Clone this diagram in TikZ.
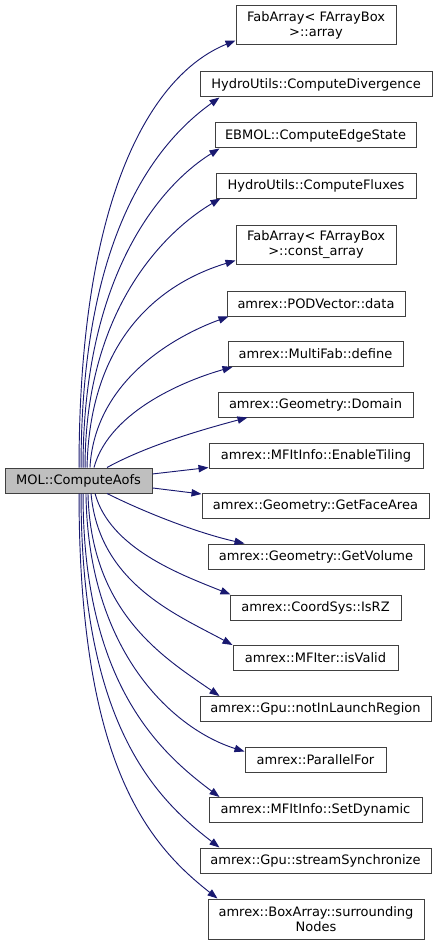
\documentclass[tikz,border=0pt]{standalone}
\usepackage{fontspec}
\setmainfont{DejaVu Sans}
\usepackage{tikz}
\usetikzlibrary{arrows.meta}

\definecolor{edgeblue}{HTML}{191970}
\definecolor{boxline}{HTML}{404040}
\definecolor{mainfill}{HTML}{BFBFBF}

\begin{document}
\begin{tikzpicture}[x=0.75pt, y=-0.75pt,
    fn/.style={draw=boxline, line width=0.75pt, fill=white, inner sep=0pt,
      minimum height=18.75pt, align=center,
      font=\fontsize{9.75}{11.25}\selectfont},
    call/.style={draw=edgeblue, line width=0.7pt,
      -{Triangle[length=7.5pt, width=5.5pt]}, edgeblue}]
    \useasboundingbox (0,0) rectangle (437,945);

    % Caller
    \node[fn, fill=mainfill, minimum width=110.25pt] (aofs) at (78.5,480.5) {MOL::ComputeAofs};

    % Callees
    \node[fn, minimum width=120pt, minimum height=29.25pt] (arr) at (316,25.5) {FabArray< FArrayBox\\>::array};
    \node[fn, minimum width=174pt] (div) at (316,84.5) {HydroUtils::ComputeDivergence};
    \node[fn, minimum width=150.75pt] (edgest) at (315.5,135.5) {EBMOL::ComputeEdgeState};
    \node[fn, minimum width=150pt] (flux) at (316,185.5) {HydroUtils::ComputeFluxes};
    \node[fn, minimum width=120pt, minimum height=29.25pt] (carr) at (316,244.5) {FabArray< FArrayBox\\>::const\_array};
    \node[fn, minimum width=133.5pt] (pod) at (316,303.5) {amrex::PODVector::data};
    \node[fn, minimum width=131.25pt] (mfdef) at (315.5,354) {amrex::MultiFab::define};
    \node[fn, minimum width=146.25pt] (dom) at (315.5,404.5) {amrex::Geometry::Domain};
    \node[fn, minimum width=160.5pt] (tiling) at (316,455.5) {amrex::MFItInfo::EnableTiling};
    \node[fn, minimum width=170.25pt] (facearea) at (315.5,506) {amrex::Geometry::GetFaceArea};
    \node[fn, minimum width=162pt] (vol) at (316,556.5) {amrex::Geometry::GetVolume};
    \node[fn, minimum width=128.25pt] (isrz) at (315.5,607.5) {amrex::CoordSys::IsRZ};
    \node[fn, minimum width=123.75pt] (valid) at (315.5,658) {amrex::MFIter::isValid};
    \node[fn, minimum width=173.25pt] (launch) at (315.5,709) {amrex::Gpu::notInLaunchRegion};
    \node[fn, minimum width=105.75pt] (pfor) at (315.5,759.5) {amrex::ParallelFor};
    \node[fn, minimum width=159.75pt] (dyn) at (315.5,810) {amrex::MFItInfo::SetDynamic};
    \node[fn, minimum width=173.25pt] (sync) at (315.5,860.5) {amrex::Gpu::streamSynchronize};
    \node[fn, minimum width=162pt, minimum height=30pt] (surr) at (316,919) {amrex::BoxArray::surrounding\\Nodes};

    % Calls leaving the top of the caller
    \draw[call] ([xshift=0.4pt]aofs.north) .. controls +(0,-268) and +(-86,35) .. ([yshift=3.75pt]arr.south west);
    \draw[call] ([xshift=1.9pt]aofs.north) .. controls +(0,-238) and +(-60,43) .. ([xshift=15pt]div.south west);
    \draw[call] ([xshift=3.4pt]aofs.north) .. controls +(0,-198) and +(-55,34) .. ([xshift=3.75pt]edgest.south west);
    \draw[call] ([xshift=4.9pt]aofs.north) .. controls +(0,-168) and +(-46,27) .. ([xshift=3.75pt]flux.south west);
    \draw[call] ([xshift=6.4pt]aofs.north) .. controls +(3,-138) and +(-66,20) .. ([yshift=3pt]carr.south west);
    \draw[call] ([xshift=8.6pt]aofs.north) .. controls +(5,-88) and +(-52,19) .. ([xshift=1.5pt]pod.south west);
    \draw[call] ([xshift=11.6pt]aofs.north) .. controls +(16,-58) and +(-43,12) .. ([xshift=3.75pt]mfdef.south west);
    \draw[call] ([xshift=21.4pt]aofs.north) .. controls +(40,-22) and +(-45,12) .. ([xshift=22.5pt]dom.south west);

    % Calls leaving the right side
    \draw[call] ([yshift=4.9pt]aofs.east) -- ([yshift=0.75pt]tiling.south west);
    \draw[call] ([yshift=-5.6pt]aofs.east) -- ([yshift=-0.75pt]facearea.north west);

    % Calls leaving the bottom of the caller
    \draw[call] ([xshift=21.4pt]aofs.south) .. controls +(40,20) and +(-45,-10) .. ([xshift=27.75pt]vol.north west);
    \draw[call] ([xshift=12.4pt]aofs.south) .. controls +(15,55) and +(-50,-20) .. ([xshift=0.75pt]isrz.north west);
    \draw[call] ([xshift=9.4pt]aofs.south) .. controls +(8,90) and +(-55,-30) .. (valid.north west);
    \draw[call] ([xshift=7.1pt]aofs.south) .. controls +(3,120) and +(-55,-38) .. ([xshift=15pt]launch.north west);
    \draw[call] ([xshift=5.6pt]aofs.south) .. controls +(2,160) and +(-70,-22) .. ([yshift=-3.75pt]pfor.north west);
    \draw[call] ([xshift=3.4pt]aofs.south) .. controls +(0,190) and +(-60,-45) .. ([xshift=8.25pt]dyn.north west);
    \draw[call] ([xshift=1.9pt]aofs.south) .. controls +(0,230) and +(-65,-50) .. ([xshift=15pt]sync.north west);
    \draw[call] ([xshift=0.4pt]aofs.south) .. controls +(0,270) and +(-70,-55) .. ([xshift=7.5pt]surr.north west);
\end{tikzpicture}
\end{document}
